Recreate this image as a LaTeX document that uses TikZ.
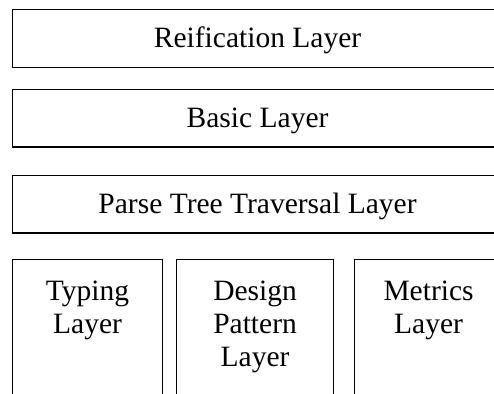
\documentclass[tikz,border=0pt]{standalone}
\usepackage{fontspec}
\setmainfont{Liberation Serif}
\begin{document}
\begin{tikzpicture}[x=1pt,y=-1pt,
  box/.style={draw=black, line width=1.1pt, rectangle, inner sep=0pt, anchor=north west},
  layer/.style={box, minimum width=490pt, text height=37.7pt, text depth=19.7pt,
    font=\fontsize{29.5}{33}\selectfont},
  col/.style={box, minimum height=170pt},
  coltext/.style={inner sep=0pt, anchor=north, align=center,
    font=\fontsize{29.5}{33}\selectfont}]
\useasboundingbox (0,0) rectangle (494,393);
\clip (0,0) rectangle (494,393);
\node[layer] (reif) at (12,9.3) {Reification Layer};
\node[layer] (basic) at (12,89) {Basic Layer};
\node[layer] (parse) at (12,175) {Parse Tree Traversal Layer};
\node[col, minimum width=150.6pt] (typing) at (11.7,259) {};
\node[col, minimum width=157.6pt] (design) at (175.7,259) {};
\node[col, minimum width=148pt] (metrics) at (354,259) {};
\node[coltext] (typingt) at ([yshift=-22pt]typing.north) {Typing\\Layer};
\node[coltext] (designt) at ([yshift=-22pt]design.north) {Design\\Pattern\\Layer};
\node[coltext] (metricst) at ([yshift=-22pt]metrics.north) {Metrics\\Layer};
\end{tikzpicture}
\end{document}
